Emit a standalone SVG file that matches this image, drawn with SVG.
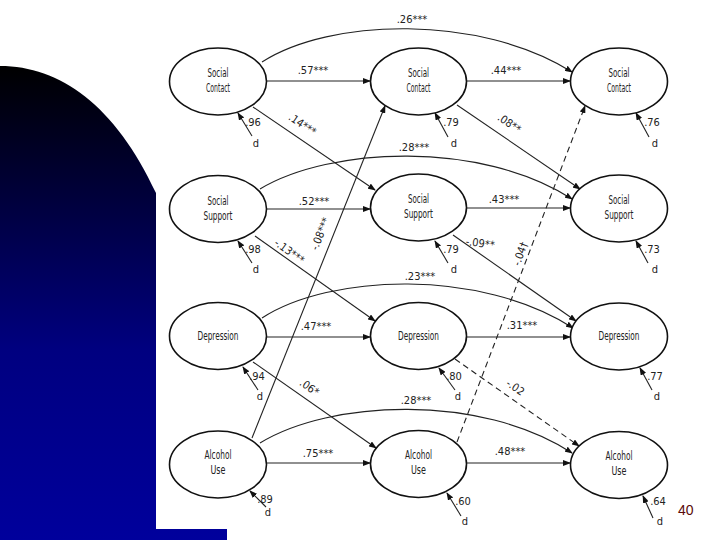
<svg xmlns="http://www.w3.org/2000/svg" width="720" height="540" viewBox="0 0 720 540">
<style>
.node ellipse{fill:#fff;stroke:#111;stroke-width:1.6}
.nt{font-family:"Liberation Sans Narrow","Arial Narrow","DejaVu Sans Condensed","Liberation Sans",sans-serif;font-stretch:condensed;font-size:11.5px;fill:#222;text-anchor:middle}
.lb{font-family:"Liberation Sans Narrow","Arial Narrow","DejaVu Sans Condensed","Liberation Sans",sans-serif;font-stretch:condensed;font-size:11px;fill:#222;text-anchor:middle}
.ed{fill:none;stroke:#222;stroke-width:1.1;marker-end:url(#ah)}
.dash{stroke-dasharray:6 4}
</style>
<defs>
<linearGradient id="bg" gradientUnits="userSpaceOnUse" x1="0" y1="66" x2="0" y2="540">
<stop offset="0" stop-color="#000000"/>
<stop offset="0.6" stop-color="#000080"/>
<stop offset="1" stop-color="#00009c"/>
</linearGradient>
<marker id="ah" markerUnits="userSpaceOnUse" markerWidth="8" markerHeight="6" refX="7" refY="3" orient="auto">
<path d="M0,0 L8,3 L0,6 z" fill="#111"/>
</marker>
</defs>
<rect width="720" height="540" fill="#fff"/>
<path d="M0,66 C60,66 115,105 156,193 L156,529 L227,529 L227,540 L0,540 Z" fill="url(#bg)"/>

<g id="connectors">
<path class="ed" d="M266,81 L370,81"/>
<path class="ed" d="M467,81 L570,81"/>
<path class="ed" d="M266,209 L370,209"/>
<path class="ed" d="M467,208 L570,208"/>
<path class="ed" d="M267,337 L370,337"/>
<path class="ed" d="M467,337 L570,337"/>
<path class="ed" d="M267,463 L370,463"/>
<path class="ed" d="M467,463 L570,463"/>
<path class="ed" d="M262,62 C330,18 480,14 572,72"/>
<path class="ed" d="M260,189 C330,147 480,140 572,199"/>
<path class="ed" d="M262,318 C330,274 480,268 573,328"/>
<path class="ed" d="M260,443 C330,400 480,393 572,453"/>
<path class="ed" d="M253,107 L375,190"/>
<path class="ed" d="M457,105 L580,189"/>
<path class="ed" d="M255,236 L375,321"/>
<path class="ed" d="M453,235 L576,321"/>
<path class="ed" d="M253,362 L376,448"/>
<path class="ed dash" d="M455,359 L579,446"/>
<path class="ed" d="M252,438 L385,106"/>
<path class="ed dash" d="M457,442 L585,106"/>
<path class="ed" d="M252,136 L238,113"/>
<path class="ed" d="M448,137 L435,113"/>
<path class="ed" d="M649,137 L636,113"/>
<path class="ed" d="M252,263 L238,241"/>
<path class="ed" d="M448,263 L435,241"/>
<path class="ed" d="M648,263 L636,241"/>
<path class="ed" d="M258,390 L243,367"/>
<path class="ed" d="M455,390 L439,368"/>
<path class="ed" d="M652,390 L640,368"/>
<path class="ed" d="M266,507 L250,491"/>
<path class="ed" d="M461,516 L447,493"/>
<path class="ed" d="M653,518 L643,496"/>
</g>

<g id="labels">
<text class="lb" x="412" y="23">.26***</text>
<text class="lb" x="313" y="74">.57***</text>
<text class="lb" x="506" y="74">.44***</text>
<text class="lb" transform="translate(302,125) rotate(34)" y="3">.14***</text>
<text class="lb" transform="translate(509,124) rotate(34)" y="3">.08**</text>
<text class="lb" x="414" y="151">.28***</text>
<text class="lb" x="314" y="205">.52***</text>
<text class="lb" x="504" y="203">.43***</text>
<text class="lb" transform="translate(289,252) rotate(36)" y="3">-.13***</text>
<text class="lb" transform="translate(480,244) rotate(8)" y="3">-.09**</text>
<text class="lb" transform="translate(321,234) rotate(-68)" y="3">-.08***</text>
<text class="lb" transform="translate(521,254) rotate(-70)" y="3">-.04†</text>
<text class="lb" x="420" y="280">.23***</text>
<text class="lb" x="316" y="330">.47***</text>
<text class="lb" x="522" y="329">.31***</text>
<text class="lb" transform="translate(309,388) rotate(35)" y="3">.06*</text>
<text class="lb" transform="translate(515,388) rotate(35)" y="3">-.02</text>
<text class="lb" x="416" y="404">.28***</text>
<text class="lb" x="318" y="457">.75***</text>
<text class="lb" x="510" y="455">.48***</text>
<text class="lb" x="253" y="126">.96</text>
<text class="lb" x="256" y="147">d</text>
<text class="lb" x="451" y="126">.79</text>
<text class="lb" x="454" y="147">d</text>
<text class="lb" x="652" y="126">.76</text>
<text class="lb" x="655" y="147">d</text>
<text class="lb" x="253" y="253">.98</text>
<text class="lb" x="256" y="273">d</text>
<text class="lb" x="451" y="253">.79</text>
<text class="lb" x="454" y="273">d</text>
<text class="lb" x="652" y="253">.73</text>
<text class="lb" x="655" y="273">d</text>
<text class="lb" x="257" y="380">.94</text>
<text class="lb" x="260" y="400">d</text>
<text class="lb" x="454" y="380">.80</text>
<text class="lb" x="458" y="400">d</text>
<text class="lb" x="655" y="380">.77</text>
<text class="lb" x="657" y="400">d</text>
<text class="lb" x="265" y="503">.89</text>
<text class="lb" x="268" y="516">d</text>
<text class="lb" x="463" y="505">.60</text>
<text class="lb" x="465" y="525">d</text>
<text class="lb" x="658" y="505">.64</text>
<text class="lb" x="660" y="525">d</text>
</g>

<g id="n-sc1" class="node"><ellipse cx="218" cy="81.5" rx="48.5" ry="33.5"/><text class="nt" x="218" y="77" textLength="21" lengthAdjust="spacingAndGlyphs">Social</text><text class="nt" x="218" y="92" textLength="24" lengthAdjust="spacingAndGlyphs">Contact</text></g>
<g id="n-sc2" class="node"><ellipse cx="418.5" cy="81.5" rx="48" ry="33.5"/><text class="nt" x="418.5" y="77" textLength="21" lengthAdjust="spacingAndGlyphs">Social</text><text class="nt" x="418.5" y="92" textLength="24" lengthAdjust="spacingAndGlyphs">Contact</text></g>
<g id="n-sc3" class="node"><ellipse cx="619" cy="81.5" rx="48.5" ry="33.5"/><text class="nt" x="619" y="77" textLength="21" lengthAdjust="spacingAndGlyphs">Social</text><text class="nt" x="619" y="92" textLength="24" lengthAdjust="spacingAndGlyphs">Contact</text></g>

<g id="n-ss1" class="node"><ellipse cx="218" cy="209" rx="48.5" ry="33.5"/><text class="nt" x="218" y="205" textLength="21" lengthAdjust="spacingAndGlyphs">Social</text><text class="nt" x="218" y="220" textLength="29" lengthAdjust="spacingAndGlyphs">Support</text></g>
<g id="n-ss2" class="node"><ellipse cx="418.5" cy="207.5" rx="48" ry="33.5"/><text class="nt" x="418.5" y="203" textLength="21" lengthAdjust="spacingAndGlyphs">Social</text><text class="nt" x="418.5" y="218" textLength="29" lengthAdjust="spacingAndGlyphs">Support</text></g>
<g id="n-ss3" class="node"><ellipse cx="619" cy="208.5" rx="48.5" ry="33.5"/><text class="nt" x="619" y="204" textLength="21" lengthAdjust="spacingAndGlyphs">Social</text><text class="nt" x="619" y="219" textLength="29" lengthAdjust="spacingAndGlyphs">Support</text></g>

<g id="n-dp1" class="node"><ellipse cx="218" cy="336" rx="48.5" ry="33.5"/><text class="nt" x="218" y="340" textLength="41" lengthAdjust="spacingAndGlyphs">Depression</text></g>
<g id="n-dp2" class="node"><ellipse cx="418.5" cy="336" rx="48" ry="33.5"/><text class="nt" x="418.5" y="340" textLength="41" lengthAdjust="spacingAndGlyphs">Depression</text></g>
<g id="n-dp3" class="node"><ellipse cx="619" cy="336.5" rx="48.5" ry="33.5"/><text class="nt" x="619" y="340" textLength="41" lengthAdjust="spacingAndGlyphs">Depression</text></g>

<g id="n-au1" class="node"><ellipse cx="218" cy="464.5" rx="48.5" ry="33.5"/><text class="nt" x="218" y="459" textLength="27" lengthAdjust="spacingAndGlyphs">Alcohol</text><text class="nt" x="218" y="474" textLength="15" lengthAdjust="spacingAndGlyphs">Use</text></g>
<g id="n-au2" class="node"><ellipse cx="418.5" cy="464" rx="48" ry="33.5"/><text class="nt" x="418.5" y="459" textLength="27" lengthAdjust="spacingAndGlyphs">Alcohol</text><text class="nt" x="418.5" y="474" textLength="15" lengthAdjust="spacingAndGlyphs">Use</text></g>
<g id="n-au3" class="node"><ellipse cx="619" cy="465" rx="48.5" ry="33.5"/><text class="nt" x="619" y="460" textLength="27" lengthAdjust="spacingAndGlyphs">Alcohol</text><text class="nt" x="619" y="475" textLength="15" lengthAdjust="spacingAndGlyphs">Use</text></g>

<text x="678" y="515" font-family="'Liberation Sans',Arial,sans-serif" font-size="14" fill="#5a0a0a">40</text>
</svg>
